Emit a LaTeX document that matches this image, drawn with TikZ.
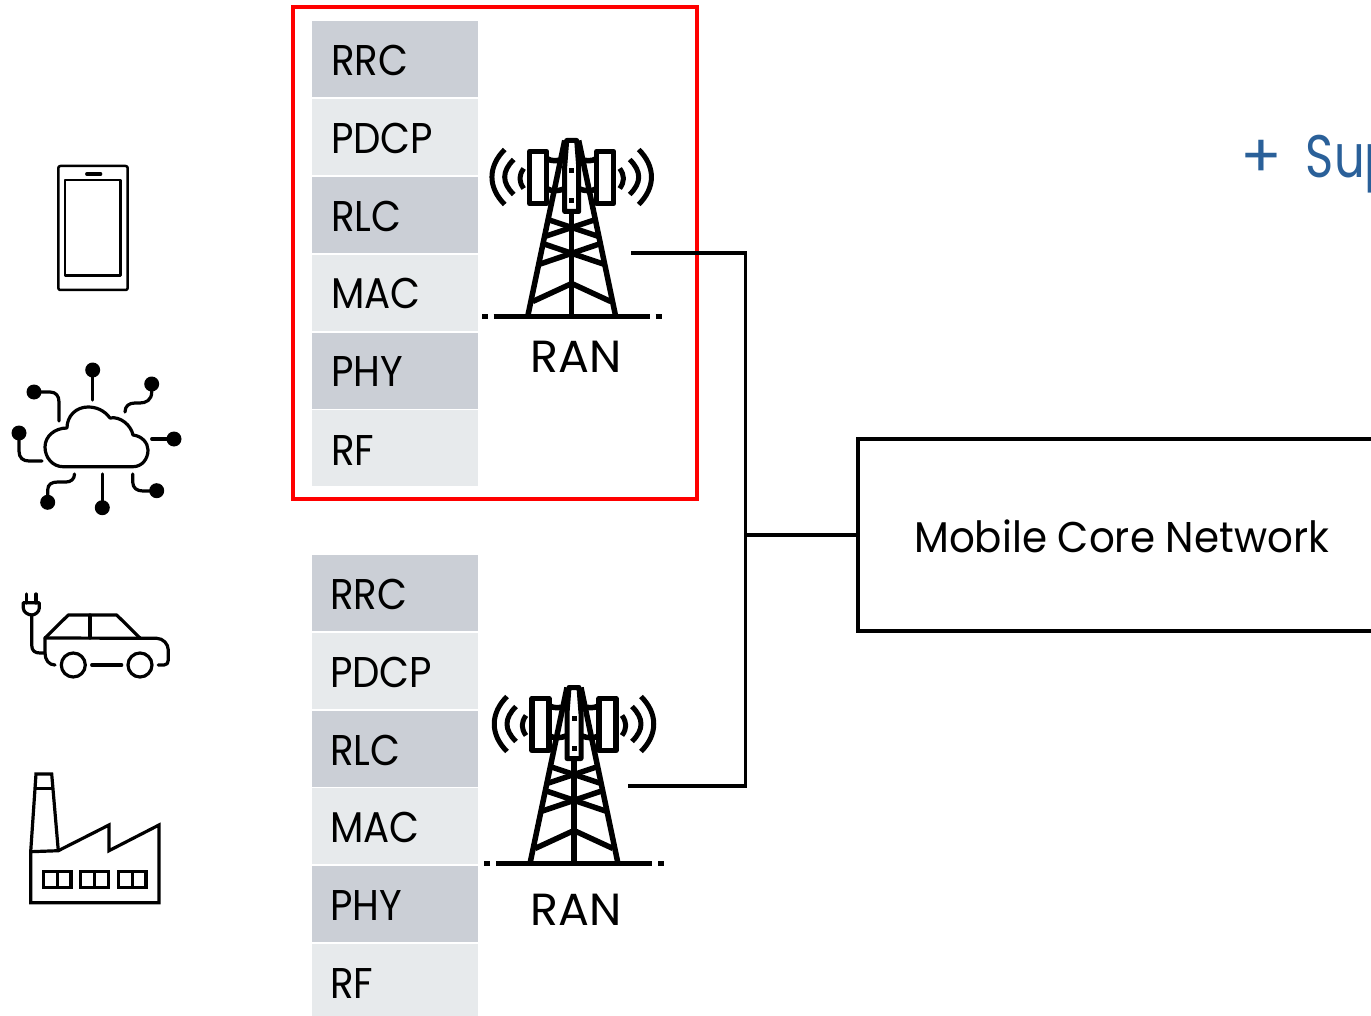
\documentclass[tikz,border=0pt]{standalone}
\usepackage{fontspec}
\setmainfont{Poppins}
\newfontfamily\NarrowFont[FakeStretch=0.9]{Poppins}
\newfontfamily\CoreFont[FakeStretch=0.94]{Poppins}
\newfontfamily\WideFont[FakeStretch=1.02]{Poppins}
\newfontfamily\SupFont[FakeStretch=0.8]{Poppins}
\usetikzlibrary{
  calc
  , positioning
}
\definecolor{LayerDark}{HTML}{CBCFD6}
\definecolor{LayerLight}{HTML}{E7EAEC}
\definecolor{PlusBlue}{HTML}{2A6099}
\tikzset{
  layerbox/.style={
    minimum width=166pt,
    minimum height=76pt,
    inner sep=0pt,
    outer sep=0pt,
  },
  layertext/.style={anchor=base west, inner sep=0pt, font=\NarrowFont\fontsize{43}{50}\selectfont},
  rantext/.style={anchor=base, inner sep=0pt, font=\WideFont\fontsize{45}{52}\selectfont},
  iconline/.style={line width=3.2pt, line join=round, line cap=round},
  tower/.pic={
    \foreach \Side in {-1,1} {
      \begin{scope}[xscale=\Side, line width=5.5pt, line join=round]
        \draw (44,0) -- (7,-176);
        \draw (-24,-97) -- (27,-80);
        \draw (-29,-73) -- (33,-52);
        \draw (0,-33) -- (39,-15);
        \draw[fill=white] (25,-165) rectangle (42,-113);
        \draw (7,-158) .. controls (14,-155) and (20,-155) .. (25,-158);
        \draw (7,-128) .. controls (14,-125) and (20,-125) .. (25,-128);
        \draw[line width=5pt] (48,-148) .. controls (53,-141) and (53,-135) .. (48,-128);
        \draw[line width=5pt] (58,-157) .. controls (70,-145) and (70,-134) .. (58,-122);
        \draw[line width=5pt] (67,-167) .. controls (84,-150) and (84,-129) .. (67,-112);
        \draw[line width=5.5pt] (84,0) -- (90,0);
      \end{scope}
    }
    \draw[line width=5.5pt] (0,-105) -- (0,0);
    \draw[line width=5pt, fill=white, line join=round]
      (-5,-176) -- (5,-176) -- (7,-150) -- (7,-105) -- (-7,-105) -- (-7,-150) -- cycle;
    \fill (-2.5,-148) rectangle (2.5,-143);
    \fill (-2.5,-118) rectangle (2.5,-113);
    \draw[line width=5.5pt] (-78,0) -- (78,0);
  },
}
\begin{document}
\begin{tikzpicture}[x=1pt, y=-1pt]
  \useasboundingbox (0,0) rectangle (1371,1016);
  \clip (0,0) rectangle (1371,1016);

  % upper stack
  \foreach \LayerName/\LayerFill/\LayerY/\LayerBase in {
    RRC/LayerDark/59/76, PDCP/LayerLight/137/154, RLC/LayerDark/215/232,
    MAC/LayerLight/293/309, PHY/LayerDark/371/386, RF/LayerLight/448/465} {
    \node [layerbox, fill=\LayerFill] (Up\LayerName) at (395,\LayerY) {};
    \node [layertext] (Up\LayerName Text) at (331,\LayerBase) {\LayerName};
  }
  % lower stack
  \foreach \LayerName/\LayerFill/\LayerY/\LayerBase in {
    RRC/LayerDark/593/609, PDCP/LayerLight/671/687, RLC/LayerDark/749/765,
    MAC/LayerLight/826/842, PHY/LayerDark/904/920} {
    \node [layerbox, fill=\LayerFill] (Lo\LayerName) at (394.5,\LayerY) {};
    \node [layertext] (Lo\LayerName Text) at (330,\LayerBase) {\LayerName};
  }
  \node [layerbox, fill=LayerLight] (LoRF) at (394.5,982) {};
  \node [layertext] (LoRF Text) at (330,998) {RF};

  \node [draw=red, line width=3.5pt, minimum width=404pt, minimum height=492pt,
    inner sep=0pt] (RanFrame) at (495,253) {};

  % towers
  \pic at (571.7,316.5) {tower};
  \pic at (574,863.5) {tower};
  \node [rantext] (UpRan) at (576,372) {RAN};
  \node [rantext] (LoRan) at (576,925) {RAN};

  % core network
  \node [draw, line width=3.5pt, anchor=west, minimum width=700pt, minimum height=192pt,
    inner sep=0pt, outer sep=0pt] (Core) at (858,535) {};
  \node [layertext, font=\CoreFont\fontsize{43}{50}\selectfont] (CoreText) at (914,552) {Mobile Core Network};
  \node [layertext, text=PlusBlue, font=\SupFont\fontsize{60}{70}\selectfont]
    (PlusSup) at (1240,178) {{\WideFont+}\hspace{11pt} Sup};

  \coordinate (UpLink) at (631,253);
  \coordinate (LoLink) at (628,786);
  \coordinate (Junction) at (745.5,535);
  \draw[line width=3.5pt] (UpLink) -| (Junction) |- (LoLink);
  \draw[line width=3.5pt] (Junction) -- (Core.west);

  % phone
  \draw[iconline, line width=2.5pt, rounded corners=2pt] (58.3,166) rectangle (127.7,290);
  \draw[iconline, line width=2.5pt] (65,180) rectangle (120.7,275.7);
  \draw[iconline] (86.7,174) -- (100.7,174);

  % cloud
  \draw[iconline] (63,466.7) -- (133,466.7)
    .. controls (142,466.7) and (148,459) .. (148,450)
    .. controls (148,443) and (142,436) .. (133,435)
    .. controls (131,425) and (120,416) .. (110,418)
    .. controls (104,410) and (96,407) .. (88,407)
    .. controls (76,407) and (67,416) .. (67,428)
    .. controls (55,428) and (45,436) .. (45,447)
    .. controls (45,458) and (53,466.7) .. (63,466.7) -- cycle;
  \foreach \DotX/\DotY in {92.7/370, 151.7/384, 174/439, 156.7/490.7,
    102.3/507.7, 47.7/502.3, 19/433, 34/392} {
    \fill (\DotX,\DotY) circle (7.5pt);
  }
  \draw[iconline] (92.7,370) -- (92.7,400);
  \draw[iconline] (151.7,384) -- (151.7,392) .. controls (151.7,400) and (146,403) .. (140,403)
    -- (135,403) .. controls (129,403) and (125,406) .. (125,412);
  \draw[iconline] (174,439) -- (151.7,439);
  \draw[iconline] (132.7,474) -- (132.7,482) .. controls (132.7,488) and (137,491) .. (143,491) -- (156.7,491);
  \draw[iconline] (102.3,507.7) -- (102.3,474);
  \draw[iconline] (47.7,502.3) -- (47.7,490) .. controls (47.7,484) and (52,482) .. (58,482)
    -- (66,482) .. controls (71,482) and (74.5,479) .. (74.5,474);
  \draw[iconline] (19,433) -- (19,451) .. controls (19,458) and (23,461) .. (29,461) -- (42,461);
  \draw[iconline] (34,392) -- (50,392) .. controls (56,392) and (59,396) .. (59,402) -- (59,421);

  % car
  \draw[iconline] (26.7,594) -- (26.7,603);
  \draw[iconline] (36,594) -- (36,603);
  \draw[iconline] (23.3,602.7) -- (39.3,602.7) -- (39.3,608)
    .. controls (39.3,612) and (35,615) .. (31.7,615)
    .. controls (28,615) and (23.3,612) .. (23.3,608) -- cycle;
  \draw[iconline] (31.7,615) -- (31.7,645) .. controls (31.7,651) and (35,653) .. (40,653) -- (45,653);
  \draw[iconline] (55,665) .. controls (49,665) and (45,660) .. (45,653) -- (45,638)
    -- (68.3,615) -- (116.7,615) -- (140,638);
  \draw[iconline] (45,638) -- (156.7,638.3)
    .. controls (163,638.3) and (168.3,644) .. (168.3,650) -- (168.3,660)
    .. controls (168.3,663) and (167,665) .. (164,665) -- (158.3,665);
  \draw[iconline] (90,615) -- (90,638);
  \draw[iconline] (91.7,665) -- (121.7,665);
  \draw[iconline] (73.3,665) circle (12pt);
  \draw[iconline] (140,665) circle (12pt);

  % factory
  \draw[iconline, line cap=butt, line join=miter] (30.7,851.7) -- (30.7,902.7) -- (159,902.7) -- (159,825)
    -- (109,850.7) -- (109,825) -- (58.3,850.7) -- cycle;
  \draw[iconline, line cap=butt, line join=miter] (30.7,851.7) -- (36,774) -- (51.7,774) -- (58.3,850.7);
  \draw[iconline, line cap=butt] (36,788.3) -- (52.7,788.3);
  \foreach \WinX in {43.3,80.7,118.3} {
    \draw[iconline, line cap=butt, line join=miter] (\WinX,871.7) rectangle ++(27.7,15.6);
    \draw[iconline, line cap=butt] ($(\WinX,871.7)+(13.8,0)$) -- ++(0,15.6);
  }
\end{tikzpicture}
\end{document}
